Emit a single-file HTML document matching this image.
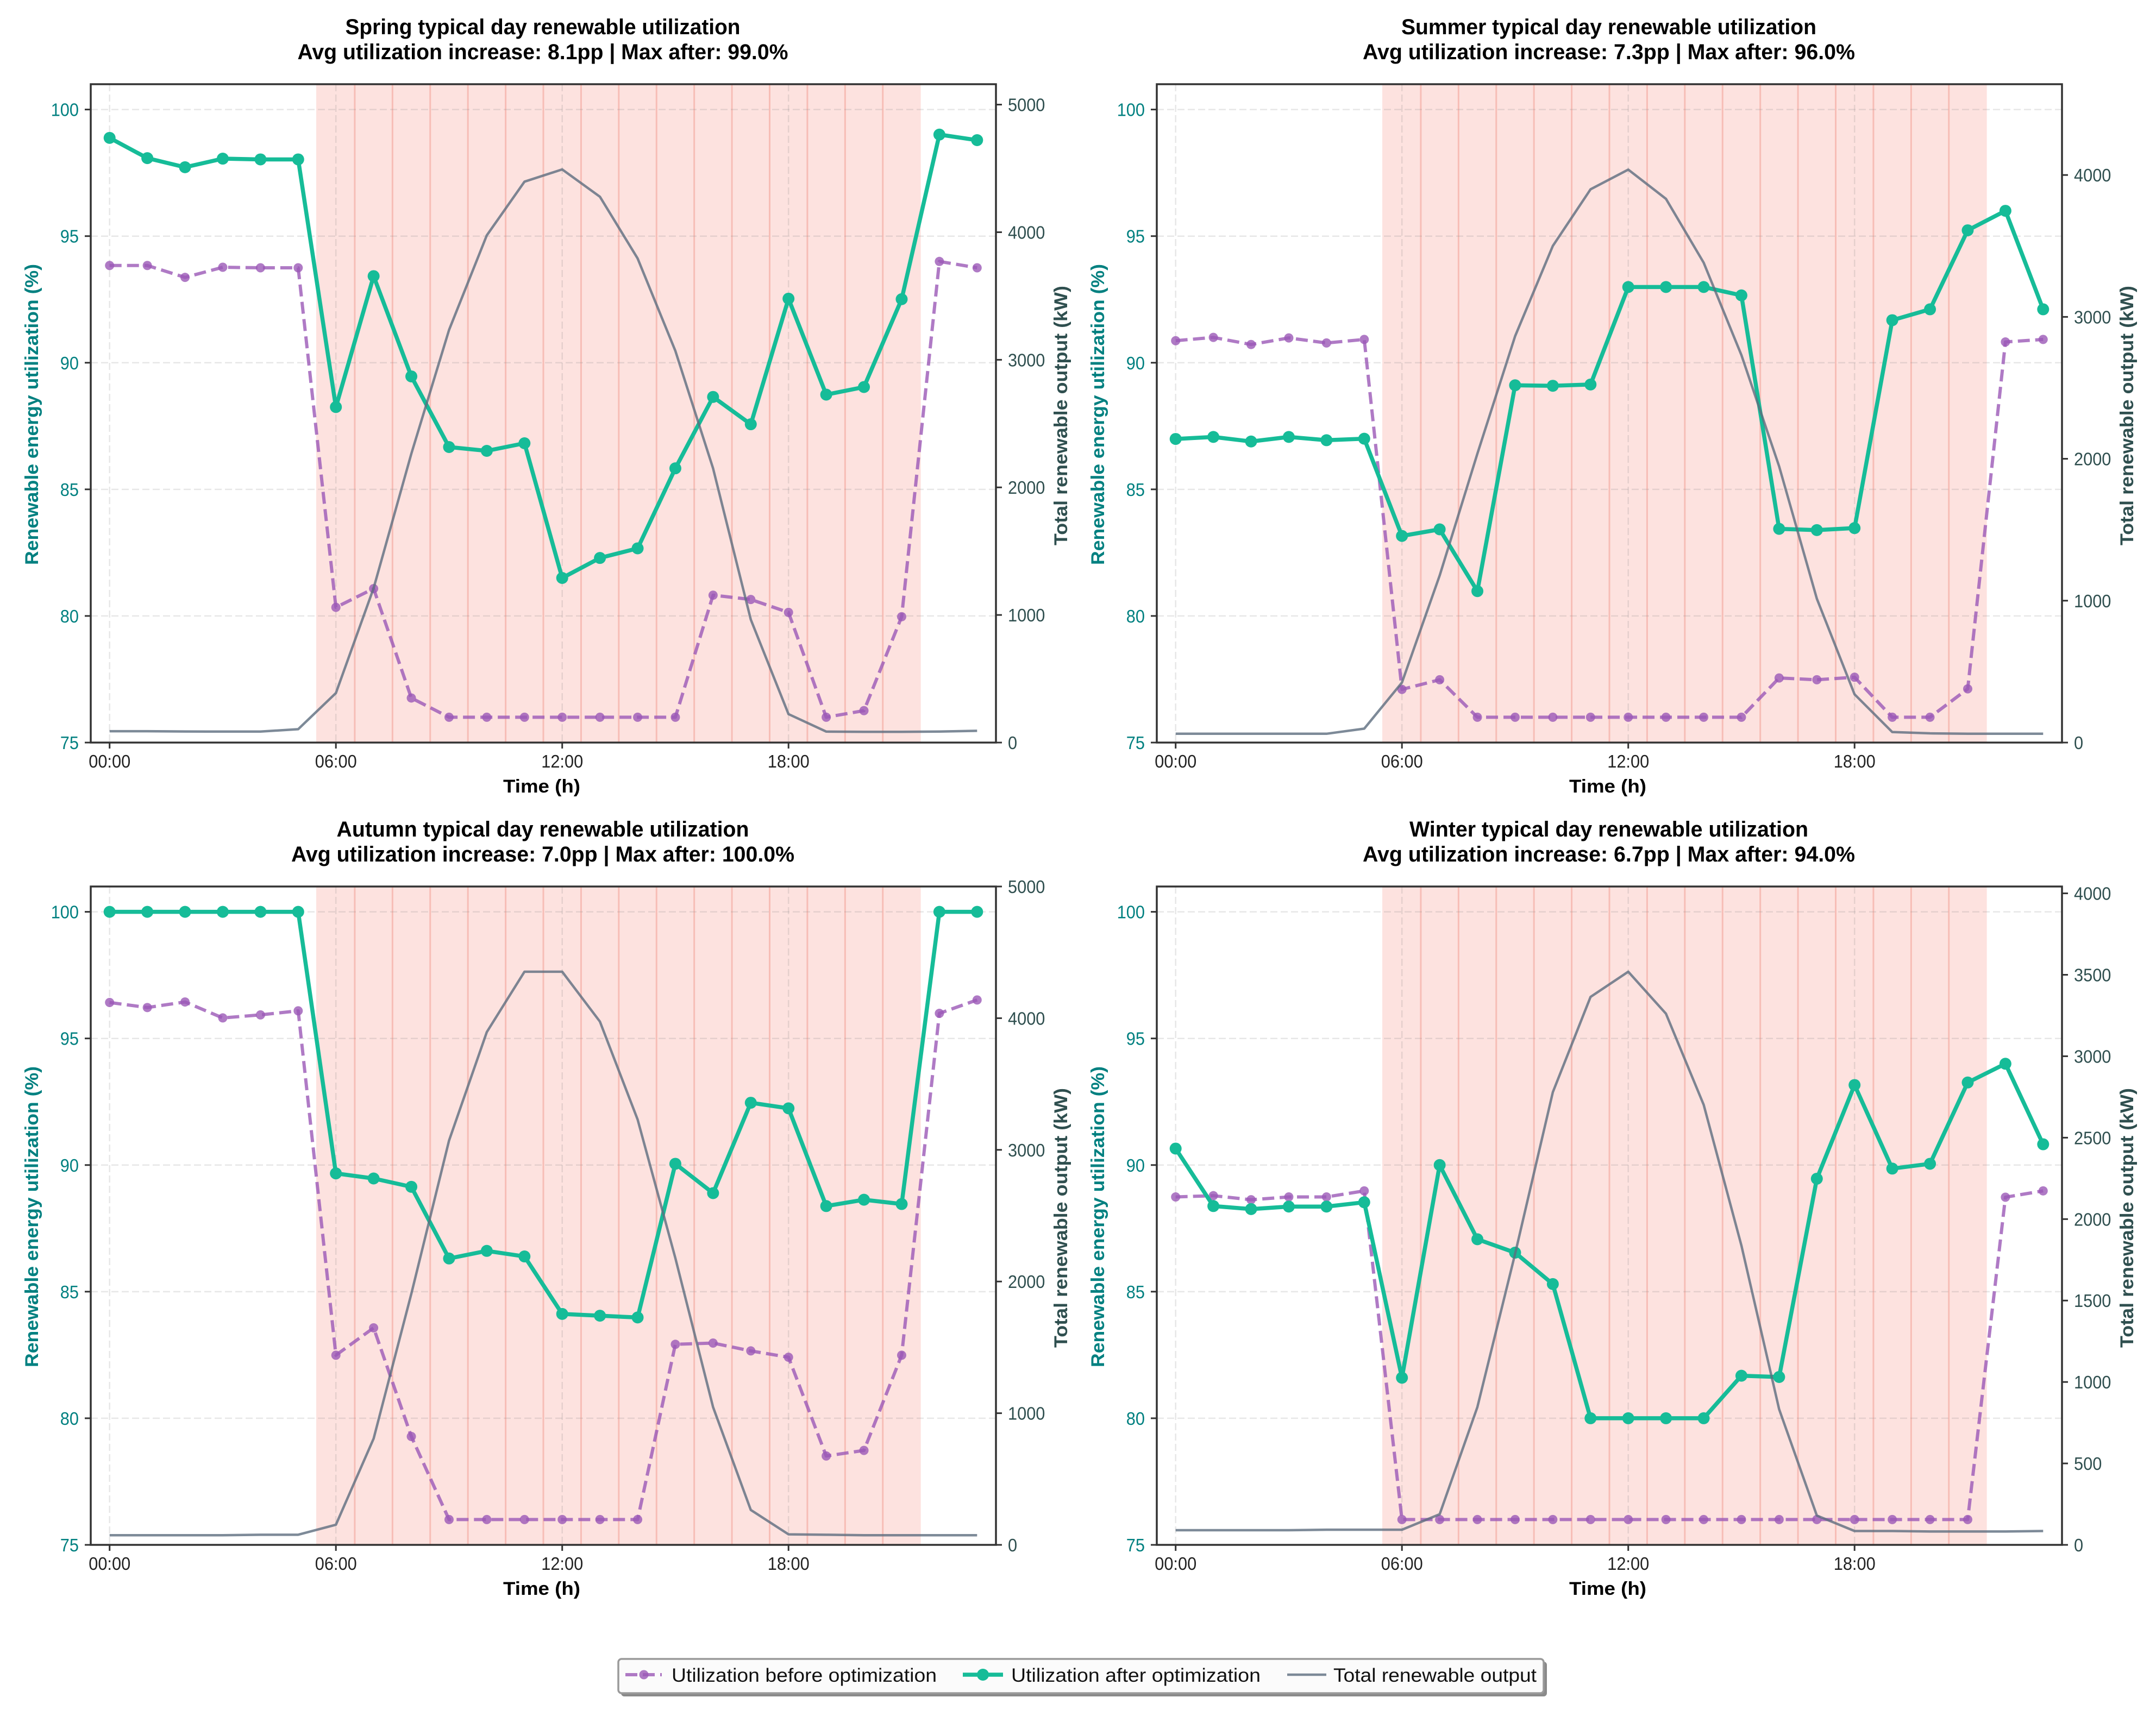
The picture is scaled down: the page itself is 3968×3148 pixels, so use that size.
<!DOCTYPE html>
<html lang="en">
<head>
<meta charset="utf-8">
<title>Typical day renewable utilization</title>
<style>
html,body{margin:0;padding:0;background:#fff;width:3968px;height:3148px;overflow:hidden}
svg{display:block}
text{font-family:"Liberation Sans",sans-serif}
.title{font-size:40px;font-weight:bold;fill:#000;text-anchor:middle}
.xlab{font-size:34px;font-weight:bold;fill:#000;text-anchor:middle}
.ylab{font-size:34px;font-weight:bold;fill:#008080;text-anchor:middle}
.rlab{font-size:34px;font-weight:bold;fill:#2f4f4f;text-anchor:middle}
.leg{font-size:35px;fill:#111}
</style>
</head>
<body>
<svg id="chart" xmlns="http://www.w3.org/2000/svg" width="3968" height="3148" viewBox="0 0 3968 3148">
  <rect x="0" y="0" width="3968" height="3148" fill="#ffffff"/>

  <g id="panel-spring">
    <text class="title" x="999" y="63" textLength="727" lengthAdjust="spacingAndGlyphs">Spring typical day renewable utilization</text>
    <text class="title" x="999" y="109" textLength="903" lengthAdjust="spacingAndGlyphs">Avg utilization increase: 8.1pp | Max after: 99.0%</text>
    <text class="xlab" x="997" y="1459" textLength="142" lengthAdjust="spacingAndGlyphs">Time (h)</text>
    <text class="ylab" transform="translate(70 763) rotate(-90)" textLength="554" lengthAdjust="spacingAndGlyphs">Renewable energy utilization (%)</text>
    <text class="rlab" transform="translate(1964 765) rotate(-90)" textLength="478" lengthAdjust="spacingAndGlyphs">Total renewable output (kW)</text>
  </g>

  <g id="panel-summer">
    <text class="title" x="2961" y="63" textLength="764" lengthAdjust="spacingAndGlyphs">Summer typical day renewable utilization</text>
    <text class="title" x="2961" y="109" textLength="906" lengthAdjust="spacingAndGlyphs">Avg utilization increase: 7.3pp | Max after: 96.0%</text>
    <text class="xlab" x="2959" y="1459" textLength="142" lengthAdjust="spacingAndGlyphs">Time (h)</text>
    <text class="ylab" transform="translate(2032 763) rotate(-90)" textLength="554" lengthAdjust="spacingAndGlyphs">Renewable energy utilization (%)</text>
    <text class="rlab" transform="translate(3926 765) rotate(-90)" textLength="478" lengthAdjust="spacingAndGlyphs">Total renewable output (kW)</text>
  </g>

  <g id="panel-autumn">
    <text class="title" x="999" y="1540" textLength="759" lengthAdjust="spacingAndGlyphs">Autumn typical day renewable utilization</text>
    <text class="title" x="999" y="1586" textLength="926" lengthAdjust="spacingAndGlyphs">Avg utilization increase: 7.0pp | Max after: 100.0%</text>
    <text class="xlab" x="997" y="2936" textLength="142" lengthAdjust="spacingAndGlyphs">Time (h)</text>
    <text class="ylab" transform="translate(70 2240) rotate(-90)" textLength="554" lengthAdjust="spacingAndGlyphs">Renewable energy utilization (%)</text>
    <text class="rlab" transform="translate(1964 2242) rotate(-90)" textLength="478" lengthAdjust="spacingAndGlyphs">Total renewable output (kW)</text>
  </g>

  <g id="panel-winter">
    <text class="title" x="2961" y="1540" textLength="734" lengthAdjust="spacingAndGlyphs">Winter typical day renewable utilization</text>
    <text class="title" x="2961" y="1586" textLength="906" lengthAdjust="spacingAndGlyphs">Avg utilization increase: 6.7pp | Max after: 94.0%</text>
    <text class="xlab" x="2959" y="2936" textLength="142" lengthAdjust="spacingAndGlyphs">Time (h)</text>
    <text class="ylab" transform="translate(2032 2240) rotate(-90)" textLength="554" lengthAdjust="spacingAndGlyphs">Renewable energy utilization (%)</text>
    <text class="rlab" transform="translate(3926 2242) rotate(-90)" textLength="478" lengthAdjust="spacingAndGlyphs">Total renewable output (kW)</text>
  </g>

  <g id="legend">
    <rect x="1143" y="3059" width="1704" height="64" rx="6" fill="#8a8a8a"/>
    <rect x="1138" y="3054" width="1703" height="63" rx="6" fill="#fbfbfb" stroke="#9a9a9a" stroke-width="3.5"/>
    <g>
      <line x1="1151" x2="1218" y1="3083" y2="3083" stroke="#9b59b6" stroke-opacity="0.8" stroke-width="6" stroke-dasharray="22 10"/>
      <circle cx="1185" cy="3083" r="8.5" fill="#9b59b6" fill-opacity="0.8"/>
      <text class="leg" x="1236" y="3096" textLength="488" lengthAdjust="spacingAndGlyphs">Utilization before optimization</text>
    </g>
    <g>
      <line x1="1772" x2="1846" y1="3083" y2="3083" stroke="#16bc98" stroke-width="7.5"/>
      <circle cx="1809" cy="3083" r="11" fill="#16bc98"/>
      <text class="leg" x="1861" y="3096" textLength="459" lengthAdjust="spacingAndGlyphs">Utilization after optimization</text>
    </g>
    <g>
      <line x1="2369" x2="2441" y1="3083" y2="3083" stroke="#5d6d7e" stroke-opacity="0.8" stroke-width="4.5"/>
      <text class="leg" x="2454" y="3096" textLength="374" lengthAdjust="spacingAndGlyphs">Total renewable output</text>
    </g>
  </g>
</svg>

<script>
// ---- data ----
const hours = [0,1,2,3,4,5,6,7,8,9,10,11,12,13,14,15,16,17,18,19,20,21,22,23];
const peakHours = [6,7,8,9,10,11,12,13,14,15,16,17,18,19,20,21];
const xTickHours = [0,6,12,18];
const xTickLabels = ["00:00","06:00","12:00","18:00"];
const utilizationTicks = [75,80,85,90,95,100];

const springBefore = [93.84,93.84,93.37,93.77,93.75,93.75,80.34,81.08,76.76,76,76,76,76,76,76,76,80.82,80.65,80.14,76,76.26,79.97,94.0,93.75];
const springAfter = [98.88,98.08,97.72,98.06,98.03,98.03,88.25,93.42,89.46,86.67,86.52,86.82,81.5,82.29,82.67,85.83,88.65,87.57,92.53,88.74,89.04,92.51,99.01,98.79];
const springOutput = [89,89,87,86,86,105,388,1210,2264,3234,3975,4396,4492,4278,3794,3070,2149,964,223,86,84,84,86,92];
const springOutputTicks = [0,1000,2000,3000,4000,5000];
const springOutputMax = 5160;

const summerBefore = [90.87,91.0,90.72,90.98,90.78,90.92,77.1,77.48,76,76,76,76,76,76,76,76,77.55,77.48,77.58,76,76,77.12,90.82,90.92];
const summerAfter = [86.99,87.07,86.89,87.07,86.94,87.0,83.16,83.42,80.98,89.11,89.09,89.14,92.99,92.99,92.99,92.66,83.44,83.39,83.47,91.68,92.11,95.23,96.0,92.11];
const summerOutput = [62,62,62,62,62,98,423,1177,2036,2864,3500,3899,4038,3832,3382,2731,1947,1014,340,74,65,62,62,62];
const summerOutputTicks = [0,1000,2000,3000,4000];
const summerOutputMax = 4640;

const autumnBefore = [96.42,96.22,96.44,95.81,95.93,96.09,82.49,83.57,79.28,76,76,76,76,76,76,82.92,82.97,82.66,82.41,78.51,78.73,82.49,95.99,96.52];
const autumnAfter = [100,100,100,100,100,100,89.67,89.47,89.14,86.31,86.61,86.39,84.12,84.05,83.98,90.05,88.89,92.46,92.24,88.38,88.63,88.46,100,100];
const autumnOutput = [73,73,73,73,77,77,153,807,1907,3071,3894,4353,4353,3974,3230,2178,1046,265,80,77,73,73,73,73];
const autumnOutputTicks = [0,1000,2000,3000,4000,5000];
const autumnOutputMax = 5000;

const winterBefore = [88.74,88.79,88.63,88.74,88.74,88.98,76,76,76,76,76,76,76,76,76,76,76,76,76,76,76,76,88.73,88.98];
const winterAfter = [90.65,88.38,88.26,88.36,88.36,88.53,81.6,90.0,87.07,86.54,85.3,80,80,80,80,81.68,81.63,89.46,93.16,89.86,90.05,93.26,94.0,90.82];
const winterOutput = [90,90,90,90,93,93,93,188,846,1787,2779,3364,3519,3261,2702,1838,833,180,85,85,82,82,82,85];
const winterOutputTicks = [0,500,1000,1500,2000,2500,3000,3500,4000];
const winterOutputMax = 4042;

const seasons = ["spring","summer","autumn","winter"];
const beforeSeries = [springBefore,summerBefore,autumnBefore,winterBefore];
const afterSeries = [springAfter,summerAfter,autumnAfter,winterAfter];
const outputSeries = [springOutput,summerOutput,autumnOutput,winterOutput];
const outputTickSets = [springOutputTicks,summerOutputTicks,autumnOutputTicks,winterOutputTicks];
const outputMaxes = [springOutputMax,summerOutputMax,autumnOutputMax,winterOutputMax];

// ---- layout ----
const frameLefts = [167,2129,167,2129];
const frameTops = [155,155,1632,1632];
const frameW = 1666, frameH = 1212;
const xMin = -0.5, xMax = 23.5, utilMin = 75, utilMax = 101;
const digitW = 17.1;

const NS = "http://www.w3.org/2000/svg";
function make(parent, tag, attrs, text) {
  const el = document.createElementNS(NS, tag);
  for (const k in attrs) el.setAttribute(k, attrs[k]);
  if (text !== undefined) el.textContent = text;
  parent.appendChild(el);
  return el;
}

seasons.forEach(function (season, p) {
  const panel = document.getElementById("panel-" + season);
  const L = frameLefts[p], T = frameTops[p], R = L + frameW, B = T + frameH;
  const xScale = function (h) { return L + (h - xMin) / (xMax - xMin) * frameW; };
  const yUtil = function (v) { return B - (v - utilMin) / (utilMax - utilMin) * frameH; };
  const yOut = function (v) { return B - v / outputMaxes[p] * frameH; };
  let el;

  // peak period shading
  peakHours.forEach(function (h) {
    el = make(panel, "rect", {x: xScale(h - 0.5) - 1.5, y: T, width: xScale(h + 0.5) - xScale(h - 0.5) + 2, height: frameH, fill: "#fde2df"});
    
    
  });
  peakHours.slice(1).forEach(function (h) {
    el = make(panel, "line", {x1: xScale(h - 0.5), x2: xScale(h - 0.5), y1: T, y2: B, stroke: "#f7bdb6", "stroke-width": 3});
    
    
  });

  // grid
  xTickHours.forEach(function (h) {
    el = make(panel, "line", {x1: xScale(h), x2: xScale(h), y1: T, y2: B, stroke: "#888", "stroke-opacity": 0.2, "stroke-width": 2.5, "stroke-dasharray": "13 6"});
    
    
  });
  utilizationTicks.forEach(function (v) {
    el = make(panel, "line", {x1: L, x2: R, y1: yUtil(v), y2: yUtil(v), stroke: "#888", "stroke-opacity": 0.2, "stroke-width": 2.5, "stroke-dasharray": "13 6"});
    
    
  });

  // before series
  const beforePts = hours.map(function (h, i) { return xScale(h) + "," + yUtil(beforeSeries[p][i]); }).join(" ");
  el = make(panel, "polyline", {points: beforePts, fill: "none", stroke: "#9b59b6", "stroke-opacity": 0.8, "stroke-width": 6, "stroke-dasharray": "22 10", "stroke-linejoin": "round"});
  
  
  hours.forEach(function (h, i) {
    el = make(panel, "circle", {cx: xScale(h), cy: yUtil(beforeSeries[p][i]), r: 8.5, fill: "#9b59b6", "fill-opacity": 0.8});
    
    
  });

  // after series
  const afterPts = hours.map(function (h, i) { return xScale(h) + "," + yUtil(afterSeries[p][i]); }).join(" ");
  el = make(panel, "polyline", {points: afterPts, fill: "none", stroke: "#16bc98", "stroke-width": 7.5, "stroke-linejoin": "round"});
  
  
  hours.forEach(function (h, i) {
    el = make(panel, "circle", {cx: xScale(h), cy: yUtil(afterSeries[p][i]), r: 11, fill: "#16bc98"});
    
    
  });

  // output series
  const outPts = hours.map(function (h, i) { return xScale(h) + "," + yOut(outputSeries[p][i]); }).join(" ");
  el = make(panel, "polyline", {points: outPts, fill: "none", stroke: "#5d6d7e", "stroke-opacity": 0.8, "stroke-width": 4.5, "stroke-linejoin": "round"});
  
  

  // frame
  el = make(panel, "rect", {x: L, y: T, width: frameW, height: frameH, fill: "none", stroke: "#333", "stroke-width": 3.5});
  
  

  // x ticks
  xTickHours.forEach(function (h, i) {
    el = make(panel, "line", {x1: xScale(h), x2: xScale(h), y1: B, y2: B + 11, stroke: "#333", "stroke-width": 3});
    
    
    el = make(panel, "text", {x: xScale(h), y: B + 46, "font-size": 33, fill: "#222", "text-anchor": "middle", textLength: 77, lengthAdjust: "spacingAndGlyphs"}, xTickLabels[i]);
    
    
  });

  // left ticks
  utilizationTicks.forEach(function (v) {
    el = make(panel, "line", {x1: L - 11, x2: L, y1: yUtil(v), y2: yUtil(v), stroke: "#333", "stroke-width": 3});
    
    
    el = make(panel, "text", {x: L - 22, y: yUtil(v) + 12, "font-size": 33, fill: "#008080", "text-anchor": "end", textLength: String(v).length * digitW, lengthAdjust: "spacingAndGlyphs"}, String(v));
    
    
  });

  // right ticks
  outputTickSets[p].forEach(function (v) {
    el = make(panel, "line", {x1: R, x2: R + 11, y1: yOut(v), y2: yOut(v), stroke: "#333", "stroke-width": 3});
    
    
    el = make(panel, "text", {x: R + 22, y: yOut(v) + 12, "font-size": 33, fill: "#2f4f4f", "text-anchor": "start", textLength: String(v).length * digitW, lengthAdjust: "spacingAndGlyphs"}, String(v));
    
    
  });
});
</script>
</body>
</html>
